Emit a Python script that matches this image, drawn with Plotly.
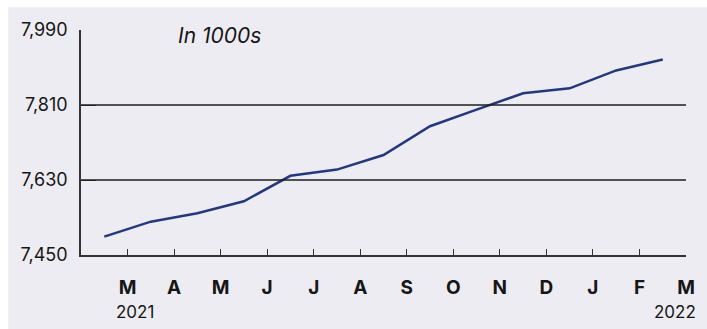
import plotly.graph_objects as go

# Data (thousands), mid-month points Feb 2021 .. Feb 2022
months = ["Feb 2021", "Mar 2021", "Apr 2021", "May 2021", "Jun 2021", "Jul 2021",
          "Aug 2021", "Sep 2021", "Oct 2021", "Nov 2021", "Dec 2021", "Jan 2022", "Feb 2022"]
values = [7494, 7530, 7550, 7579, 7640, 7655, 7690, 7759, 7799, 7838, 7850, 7893, 7919]
tick_labels = ["M", "A", "M", "J", "J", "A", "S", "O", "N", "D", "J", "F", "M"]
y_ticks = [7450, 7630, 7810, 7990]
y_tick_labels = ["7,450", "7,630", "7,810", "7,990"]

x_pos = [i + 0.5 for i in range(len(values))]
tick_pos = [i + 1 for i in range(len(tick_labels))]

BG = "#EDECF2"
FONT = "Inter"
INK = "#161616"

fig = go.Figure()
fig.add_trace(go.Scatter(x=x_pos, y=values, mode="lines",
                         line=dict(color="#25397A", width=2.5),
                         hoverinfo="skip", showlegend=False))

fig.update_layout(
    width=707, height=329,
    margin=dict(l=81, r=19, t=30, b=74, pad=0),
    paper_bgcolor="white",
    plot_bgcolor=BG,
    font=dict(family=FONT, color=INK),
    xaxis=dict(range=[0, 13], tickvals=tick_pos, ticktext=tick_labels,
               ticks="inside", ticklen=6, tickwidth=1.2, tickcolor="#333",
               showline=True, linecolor="#333", linewidth=1.5,
               showgrid=False, zeroline=False,
               tickfont=dict(size=19, family=FONT, weight="bold", color=INK),
               ticklabelstandoff=14, fixedrange=True),
    yaxis=dict(range=[7450, 7990], tickvals=y_ticks, ticktext=y_tick_labels,
               ticks="inside", ticklen=15, tickwidth=1.2, tickcolor="#333",
               showline=True, linecolor="#333", linewidth=1.5,
               showgrid=False, zeroline=False,
               tickfont=dict(size=18, family=FONT, color=INK),
               ticklabelstandoff=8, fixedrange=True),
)

# panel background
fig.add_shape(type="rect", xref="paper", yref="paper",
              x0=-0.1203, x1=1.05, y0=-0.4, y1=1.1008,
              fillcolor=BG, line=dict(width=0), layer="below")

# gridlines at interior ticks
for yv in y_ticks[1:3]:
    fig.add_shape(type="line", xref="paper", yref="y", x0=0, x1=1, y0=yv, y1=yv,
                  line=dict(color="#1e1e1e", width=1.3), layer="above")

fig.add_annotation(text="<i>In 1000s</i>", xref="paper", yref="paper",
                   x=0.1566, y=0.9765, xanchor="left", yanchor="middle",
                   showarrow=False, font=dict(size=21, family=FONT, color=INK))
fig.add_annotation(text="2021", xref="x", yref="paper", x=1.157, y=-0.252,
                   xanchor="center", yanchor="middle", showarrow=False,
                   font=dict(size=17, family=FONT, color=INK))
fig.add_annotation(text="2022", xref="x", yref="paper", x=12.77, y=-0.252,
                   xanchor="center", yanchor="middle", showarrow=False,
                   font=dict(size=17, family=FONT, color=INK))

fig.write_html("out.html")
